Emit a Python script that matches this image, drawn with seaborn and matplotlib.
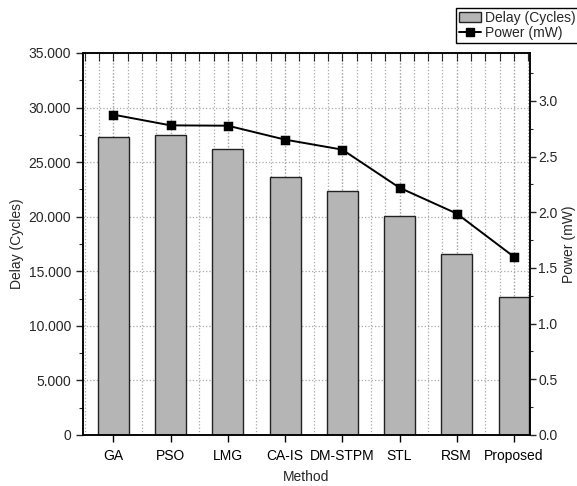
import numpy as np
import pandas as pd
import seaborn as sns
import matplotlib.pyplot as plt
from matplotlib.ticker import MultipleLocator, FuncFormatter
from matplotlib.patches import Patch
from matplotlib.lines import Line2D

methods = ["GA", "PSO", "LMG", "CA-IS", "DM-STPM", "STL", "RSM", "Proposed"]
delay = [27330, 27490, 26200, 23600, 22330, 20070, 16560, 12670]
power = [2.876, 2.78, 2.777, 2.652, 2.562, 2.22, 1.988, 1.60]

sns.set_theme(style="ticks")
plt.rcParams["font.family"] = ["Liberation Sans", "DejaVu Sans"]
plt.rcParams["font.size"] = 10

df = pd.DataFrame({"Method": methods, "Delay": delay, "Power": power})

fig = plt.figure(figsize=(5.77, 4.86), dpi=100)
ax = fig.add_axes([0.144, 0.105, 0.7745, 0.786])

sns.barplot(data=df, x="Method", y="Delay", ax=ax, color="#b5b5b5",
            saturation=1, width=0.54, edgecolor="#222222", linewidth=1.0)
ax.set_axisbelow(True)

ax2 = ax.twinx()
sns.pointplot(data=df, x="Method", y="Power", ax=ax2, color="black",
              markers="s", markersize=6, linewidth=1.4)

# left axis
ax.set_ylim(0, 35000)
ax.yaxis.set_major_locator(MultipleLocator(5000))
ax.yaxis.set_minor_locator(MultipleLocator(2500))
ax.yaxis.set_major_formatter(FuncFormatter(
    lambda v, p: "0" if v == 0 else f"{int(v):,}".replace(",", ".")))
ax.set_ylabel("Delay (Cycles)", fontsize=10, labelpad=3)
ax.set_xlabel("Method", fontsize=10, labelpad=5)

# x axis
ax.set_xlim(-0.53, 7.28)
ax.xaxis.set_minor_locator(MultipleLocator(0.25))
ax.xaxis.remove_overlapping_locs = False
ax.tick_params(axis="x", which="major", direction="out", length=5,
               width=1, bottom=True, top=False, labelsize=10, colors="black",
               pad=5)
ax.tick_params(axis="x", which="minor", direction="in", length=6,
               width=0.8, bottom=False, top=True)
ax.tick_params(axis="y", which="major", direction="out", length=5,
               width=1, labelsize=10)
ax.tick_params(axis="y", which="minor", direction="out", length=3, width=0.8)

ax.grid(axis="y", which="major", linestyle=":", color="#a8a8a8", linewidth=0.9)
ax.grid(axis="x", which="both", linestyle=":", color="#a8a8a8", linewidth=0.9)

# right axis
ax2.set_ylim(0, 3.43)
ax2.set_xlim(-0.53, 7.28)
ax2.yaxis.set_major_locator(MultipleLocator(0.5))
ax2.yaxis.set_minor_locator(MultipleLocator(0.25))
ax2.yaxis.set_major_formatter(FuncFormatter(lambda v, p: f"{v:.1f}"))
ax2.tick_params(axis="y", which="major", direction="out", length=4,
                width=1, labelsize=10, pad=2)
ax2.tick_params(axis="y", which="minor", direction="out", length=2.5, width=0.8)
ax2.set_ylabel("Power (mW)", fontsize=10, labelpad=3)
ax2.grid(False)

for a in (ax, ax2):
    for s in a.spines.values():
        s.set_visible(True)
        s.set_color("black")
        s.set_linewidth(1.1)

handles = [
    Patch(facecolor="#b5b5b5", edgecolor="#222222", linewidth=1.0,
          label="Delay (Cycles)"),
    Line2D([0], [0], color="black", marker="s", markersize=6, linewidth=1.4,
           label="Power (mW)"),
]
fig.legend(handles=handles, loc="upper left",
           bbox_to_anchor=(456 / 577, 1 - 8 / 486), fontsize=10,
           frameon=True, fancybox=False, edgecolor="black", framealpha=1,
           borderpad=0.2, labelspacing=0.1, handlelength=1.6,
           handletextpad=0.3, borderaxespad=0)

fig.savefig("out.png", dpi=100)
